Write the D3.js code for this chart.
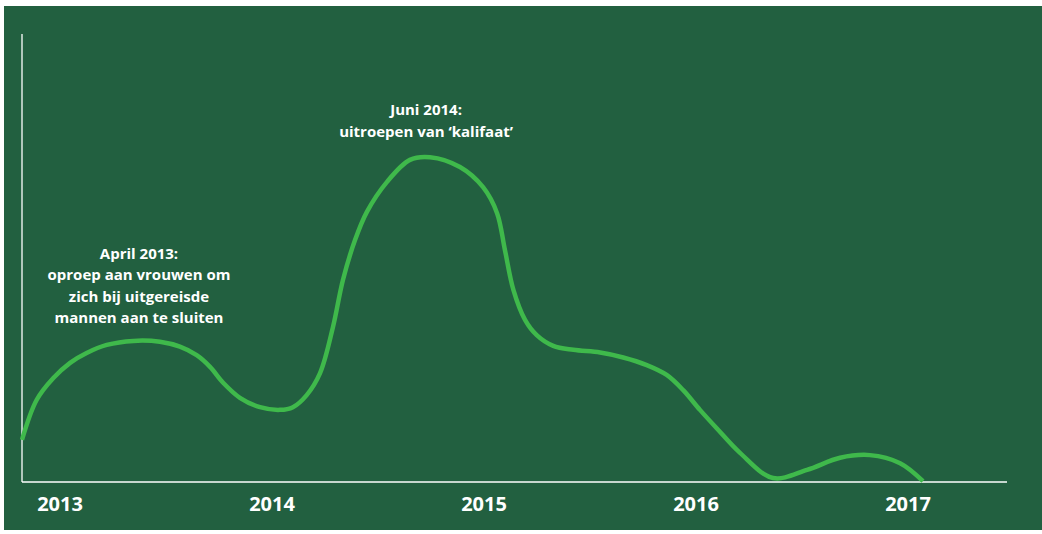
<!DOCTYPE html>
<html>
<head>
<meta charset="utf-8">
<script src="https://cdn.jsdelivr.net/npm/d3@7"></script>
<style>
  html, body { margin: 0; padding: 0; background: #fff; }
  svg { display: block; }
</style>
</head>
<body>
<div id="chart"></div>
<script>
// year ticks shown under the axis
const years = [2013, 2014, 2015, 2016, 2017];

// trend line: decimal year, relative level (0-100)
const trendYears = [
  2012.823, 2012.892, 2012.971, 2013.050, 2013.128, 2013.223, 2013.348, 2013.474,
  2013.568, 2013.647, 2013.710, 2013.773, 2013.851, 2013.946, 2014.040, 2014.101,
  2014.166, 2014.229, 2014.290, 2014.337, 2014.394, 2014.450, 2014.545, 2014.653,
  2014.748, 2014.889, 2014.998, 2015.064, 2015.101, 2015.141, 2015.196, 2015.251,
  2015.329, 2015.424, 2015.550, 2015.659, 2015.770, 2015.864, 2015.942, 2016.021,
  2016.100, 2016.210, 2016.366, 2016.526, 2016.682, 2016.823, 2016.965, 2017.073
];
const trendValues = [
  9.4, 18.3, 23.2, 26.6, 28.8, 30.6, 31.5, 31.3,
  30.2, 28.3, 25.7, 22.1, 18.8, 16.7, 16.1, 16.7,
  19.4, 24.3, 34.6, 45.1, 54.0, 60.3, 67.0, 71.9,
  72.5, 70.3, 65.8, 60.0, 51.8, 42.9, 36.2, 32.8,
  30.4, 29.5, 28.9, 27.8, 26.1, 23.9, 20.5, 16.1,
  12.0, 6.5, 0.9, 2.7, 5.4, 6.0, 4.2, 0.2
];

// annotations, anchored at (year, level)
const noteYears = [2013.375, 2014.729];
const noteValues = [49.8, 81.9];
const noteLines = [
  ["April 2013:", "oproep aan vrouwen om", "zich bij uitgereisde", "mannen aan te sluiten"],
  ["Juni 2014:", "uitroepen van \u2018kalifaat\u2019"]
];

const width = 1042;
const height = 534;
const frame = { left: 22, right: 1007, top: 34, bottom: 482 };

const svg = d3.select("#chart")
  .append("svg")
  .attr("width", width)
  .attr("height", height)
  .attr("viewBox", [0, 0, width, height]);

svg.append("rect")
  .attr("x", 4)
  .attr("y", 6)
  .attr("width", width - 4)
  .attr("height", 524)
  .attr("fill", "#226040");

const x = d3.scaleLinear()
  .domain([2013, 2017])
  .range([59.5, 907.5]);

const y = d3.scaleLinear()
  .domain([0, 100])
  .range([frame.bottom, frame.top]);

// axis frame
svg.append("line")
  .attr("x1", frame.left).attr("x2", frame.left)
  .attr("y1", frame.top).attr("y2", frame.bottom)
  .attr("stroke", "#fff")
  .attr("stroke-width", 1.3);

svg.append("line")
  .attr("x1", frame.left).attr("x2", frame.right)
  .attr("y1", frame.bottom).attr("y2", frame.bottom)
  .attr("stroke", "#fff")
  .attr("stroke-width", 1.3);

svg.append("g")
  .attr("transform", `translate(0,${frame.bottom})`)
  .call(d3.axisBottom(x).tickValues(years).tickFormat(d3.format("d")).tickSize(0).tickPadding(14))
  .call((g) => g.select(".domain").remove())
  .call((g) => g.selectAll("text")
    .attr("fill", "#fff")
    .attr("dy", 0)
    .attr("y", 29)
    .style("font-family", "'Open Sans', sans-serif")
    .style("font-weight", 700)
    .style("font-size", "20px"));

const points = trendYears.map((yr, i) => [yr, trendValues[i]]);

const line = d3.line()
  .x((d) => x(d[0]))
  .y((d) => y(d[1]))
  .curve(d3.curveCatmullRom.alpha(0.5));

svg.append("path")
  .datum(points)
  .attr("d", line)
  .attr("fill", "none")
  .attr("stroke", "#3fb94b")
  .attr("stroke-width", 4.5)
  .attr("stroke-linecap", "butt");

const notes = svg.append("g")
  .selectAll("text")
  .data(noteLines)
  .join("text")
  .attr("x", (d, i) => x(noteYears[i]))
  .attr("y", (d, i) => y(noteValues[i]))
  .attr("text-anchor", "middle")
  .attr("fill", "#fff")
  .style("font-family", "'Open Sans', sans-serif")
  .style("font-weight", 700)
  .style("font-size", "15px");

notes.selectAll("tspan")
  .data((d) => d)
  .join("tspan")
  .attr("x", function () { return d3.select(this.parentNode).attr("x"); })
  .attr("dy", (d, i) => (i === 0 ? 0 : 21.5))
  .text((d) => d);
</script>
</body>
</html>
